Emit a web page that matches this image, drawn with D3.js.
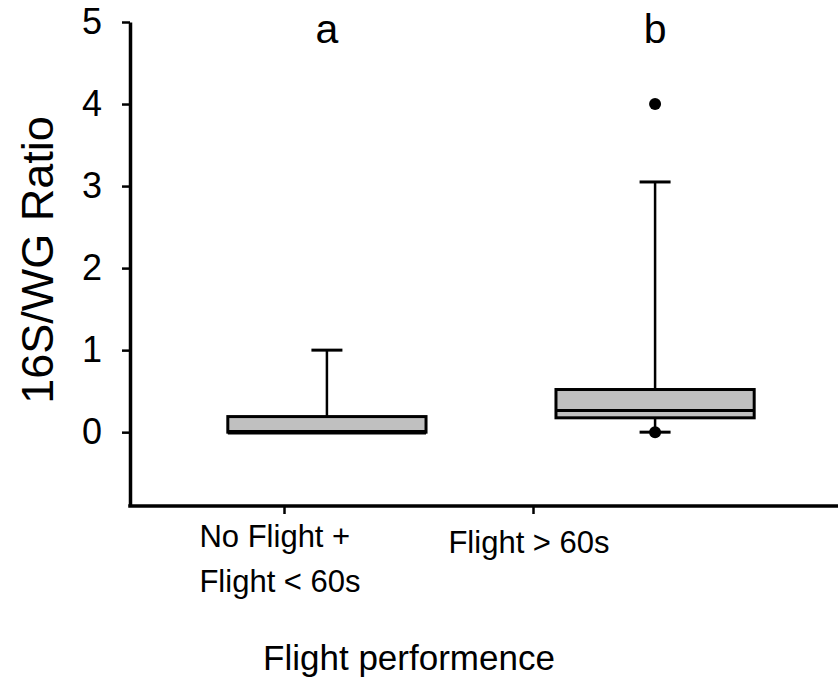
<!DOCTYPE html>
<html>
<head>
<meta charset="utf-8">
<script src="https://cdn.jsdelivr.net/npm/d3@7"></script>
<style>
  body { margin: 0; background: #fff; }
  text { font-family: "Liberation Sans", Arial, sans-serif; fill: #000; }
</style>
</head>
<body>
<div id="chart"></div>
<script>
// data
const categories = ["No Flight +\nFlight < 60s", "Flight > 60s"];
const q1 = [0, 0.175];
const medians = [0, 0.265];
const q3 = [0.19, 0.52];
const whiskerLow = [0, 0];
const whiskerHigh = [1.0, 3.05];
const outliers = [[], [4.0, 0]];
const letters = ["a", "b"];
const yTicks = [0, 1, 2, 3, 4, 5];

const boxes = categories.map((c, i) => ({
  cat: c, q1: q1[i], med: medians[i], q3: q3[i],
  lo: whiskerLow[i], hi: whiskerHigh[i], out: outliers[i], letter: letters[i]
}));

//size
const width = 838;
const height = 681;
const plotLeft = 130, plotTop = 22, plotBottom = 506;

const svg = d3.select("#chart").append("svg")
  .attr("width", width)
  .attr("height", height);

const y = d3.scaleLinear().domain([-0.9, 5]).range([plotBottom, plotTop]);

// boxes sit on their own band, ticks sit on a point scale (as in the source figure)
const xBox = d3.scaleBand().domain(categories).range([195, 787])
  .paddingInner(0.396).paddingOuter(0.1);
const xTick = d3.scalePoint().domain(categories).range([284, 533]);

// y axis
const gy = svg.append("g")
  .attr("transform", `translate(${plotLeft},0)`)
  .call(d3.axisLeft(y).tickValues(yTicks).tickFormat(d3.format("d")).tickSize(8).tickPadding(20).tickSizeOuter(0));
gy.select(".domain").attr("stroke-width", 3.5);
gy.selectAll(".tick line").attr("stroke-width", 2.5);
gy.selectAll(".tick text").attr("font-size", 36).attr("font-family", "Liberation Sans, Arial, sans-serif");

// x axis
const gx = svg.append("g")
  .attr("transform", `translate(0,${plotBottom})`)
  .call(d3.axisBottom(xTick).tickSize(8).tickSizeOuter(0).tickFormat(""));
gx.select(".domain").remove();
gx.append("line")
  .attr("x1", plotLeft - 1.75).attr("x2", width)
  .attr("stroke", "#000").attr("stroke-width", 3.5);
gx.selectAll(".tick line").attr("stroke-width", 2.5);

// category labels, multi-line ones left aligned as a block
categories.forEach(c => {
  const lines = c.split("\n");
  const t = svg.append("text")
    .attr("font-size", 31)
    .attr("y", lines.length > 1 ? 547 : 553);
  lines.forEach((l, i) => {
    t.append("tspan").attr("dy", i === 0 ? 0 : 45).text(l);
  });
  const tsp = t.selectAll("tspan").nodes();
  const w = d3.max(tsp, n => n.getComputedTextLength());
  t.selectAll("tspan").attr("x", xTick(c) - 4 - w / 2);
});

// axis titles
svg.append("text")
  .attr("x", 409).attr("y", 670)
  .attr("text-anchor", "middle")
  .attr("font-size", 35)
  .text("Flight performence");

svg.append("text")
  .attr("transform", `translate(53,260) rotate(-90)`)
  .attr("text-anchor", "middle")
  .attr("font-size", 45)
  .text("16S/WG Ratio");

// boxes
const g = svg.append("g");
const bw = xBox.bandwidth();
const capW = 31;

boxes.forEach(b => {
  const cx = xBox(b.cat) + bw / 2;
  // upper whisker
  g.append("line")
    .attr("x1", cx).attr("x2", cx)
    .attr("y1", y(b.q3)).attr("y2", y(b.hi))
    .attr("stroke", "#000").attr("stroke-width", 2.5);
  g.append("line")
    .attr("x1", cx - capW / 2).attr("x2", cx + capW / 2)
    .attr("y1", y(b.hi)).attr("y2", y(b.hi))
    .attr("stroke", "#000").attr("stroke-width", 3);
  // lower whisker
  if (b.lo < b.q1) {
    g.append("line")
      .attr("x1", cx).attr("x2", cx)
      .attr("y1", y(b.q1)).attr("y2", y(b.lo))
      .attr("stroke", "#000").attr("stroke-width", 2.5);
    g.append("line")
      .attr("x1", cx - capW / 2).attr("x2", cx + capW / 2)
      .attr("y1", y(b.lo)).attr("y2", y(b.lo))
      .attr("stroke", "#000").attr("stroke-width", 3);
  }
  g.append("rect")
    .attr("x", xBox(b.cat)).attr("width", bw)
    .attr("y", y(b.q3)).attr("height", y(b.q1) - y(b.q3))
    .attr("fill", "#c0c0c0")
    .attr("stroke", "#000").attr("stroke-width", 3);
  g.append("line")
    .attr("x1", xBox(b.cat)).attr("x2", xBox(b.cat) + bw)
    .attr("y1", y(b.med)).attr("y2", y(b.med))
    .attr("stroke", "#000").attr("stroke-width", b.med === b.q1 ? 4.5 : 3);
  // outliers
  g.selectAll(null)
    .data(b.out)
    .join("circle")
    .attr("cx", cx).attr("cy", d => y(d))
    .attr("r", 6)
    .attr("fill", "#000");
  // significance letter
  svg.append("text")
    .attr("x", cx).attr("y", 43)
    .attr("text-anchor", "middle")
    .attr("font-size", 41)
    .text(b.letter);
});
</script>
</body>
</html>
